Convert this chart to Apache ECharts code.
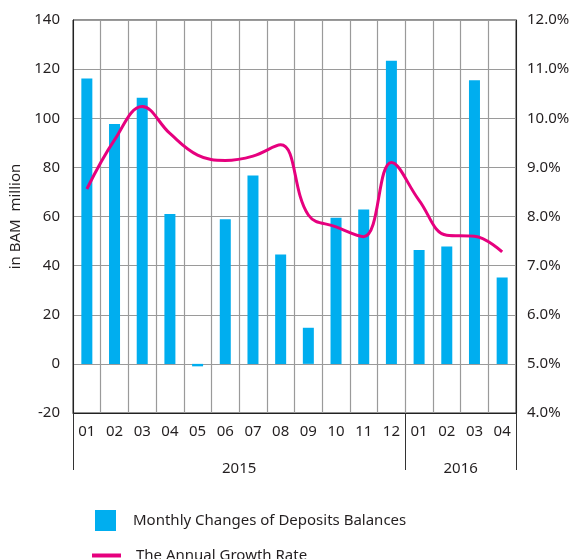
<!DOCTYPE html>
<html>
<head>
<meta charset="utf-8">
<script src="https://cdn.jsdelivr.net/npm/echarts@6/dist/echarts.min.js"></script>
<style>
    html, body { margin: 0; padding: 0; background: #fff; }
    #chart { width: 574px; height: 559px; }
</style>
</head>
<body>
<div id="chart"></div>
<script>
'use strict'

const months = ['01', '02', '03', '04', '05', '06', '07', '08', '09', '10', '11', '12', '01', '02', '03', '04']
const years = ['2015', '2016']
const depositChanges = [116.2, 97.7, 108.3, 61.0, -1.0, 58.9, 76.7, 44.5, 14.7, 59.5, 62.9, 123.4, 46.4, 47.8, 115.5, 35.2]
const growthRate = [8.56, 9.56, 10.24, 9.69, 9.25, 9.14, 9.23, 9.46, 8.03, 7.79, 7.59, 9.10, 8.33, 7.62, 7.60, 7.28]

const barName = 'Monthly Changes of Deposits Balances'
const lineName = 'The Annual Growth Rate'
const textColor = '#231f20'
const fontFamily = '"Noto Sans", sans-serif'

let option = {
    animation: false,
    textStyle: { fontFamily: fontFamily },
    grid: {
        left: 72,
        right: 58,
        top: 20,
        bottom: 146,
        show: true,
        borderColor: '#222',
        borderWidth: 1
    },
    legend: [{
        data: [barName],
        left: 95,
        top: 510,
        padding: 0,
        itemWidth: 21,
        itemHeight: 21,
        icon: 'rect',
        textStyle: { color: textColor, fontSize: 15, padding: [0, 0, 0, 12] }
    }, {
        data: [lineName],
        left: 92,
        top: 548,
        padding: 0,
        itemWidth: 29,
        itemHeight: 4,
        icon: 'rect',
        textStyle: { color: textColor, fontSize: 15, padding: [0, 0, 0, 10] }
    }],
    xAxis: [{
        type: 'category',
        data: months,
        axisLine: { show: false },
        axisTick: { show: false },
        splitLine: {
            show: true,
            interval: 0,
            lineStyle: { color: '#9a9a9a', width: 1.2 }
        },
        axisLabel: {
            interval: 0,
            color: textColor,
            fontSize: 15,
            margin: 11
        }
    }, {
        type: 'value',
        min: 0,
        max: 16,
        position: 'bottom',
        axisLine: { show: true, lineStyle: { color: '#222' } },
        splitLine: { show: false },
        axisTick: {
            show: true,
            customValues: [0, 12, 16],
            length: 57,
            lineStyle: { color: '#333' }
        },
        axisLabel: {
            customValues: [6, 14],
            formatter: function (v) {
                return v === 6 ? years[0] : years[1]
            },
            color: textColor,
            fontSize: 15,
            margin: 48
        }
    }],
    yAxis: [{
        type: 'value',
        min: -20,
        max: 140,
        interval: 20,
        name: 'in BAM  million',
        nameLocation: 'middle',
        nameGap: 50,
        nameTextStyle: { color: textColor, fontSize: 15 },
        axisLine: { show: true, lineStyle: { color: '#222' } },
        axisTick: { show: false },
        axisLabel: { color: textColor, fontSize: 15, margin: 13 },
        splitLine: { lineStyle: { color: '#9a9a9a', width: 1.2 } }
    }, {
        type: 'value',
        min: 4,
        max: 12,
        interval: 1,
        position: 'right',
        axisLine: { show: true, lineStyle: { color: '#222' } },
        axisTick: { show: false },
        axisLabel: {
            color: textColor,
            fontSize: 15,
            margin: 11,
            formatter: function (v) {
                return v.toFixed(1) + '%'
            }
        },
        splitLine: { show: false }
    }],
    series: [{
        name: barName,
        type: 'bar',
        xAxisIndex: 0,
        yAxisIndex: 0,
        data: depositChanges,
        barWidth: 11,
        itemStyle: { color: '#00aeef' }
    }, {
        name: lineName,
        type: 'line',
        xAxisIndex: 0,
        yAxisIndex: 1,
        data: growthRate,
        smooth: 0.4,
        symbol: 'none',
        lineStyle: { color: '#e6007e', width: 3 },
        itemStyle: { color: '#e6007e' }
    }]
}

let myChart = echarts.init(document.getElementById('chart'))
myChart.setOption(option)
</script>
</body>
</html>
